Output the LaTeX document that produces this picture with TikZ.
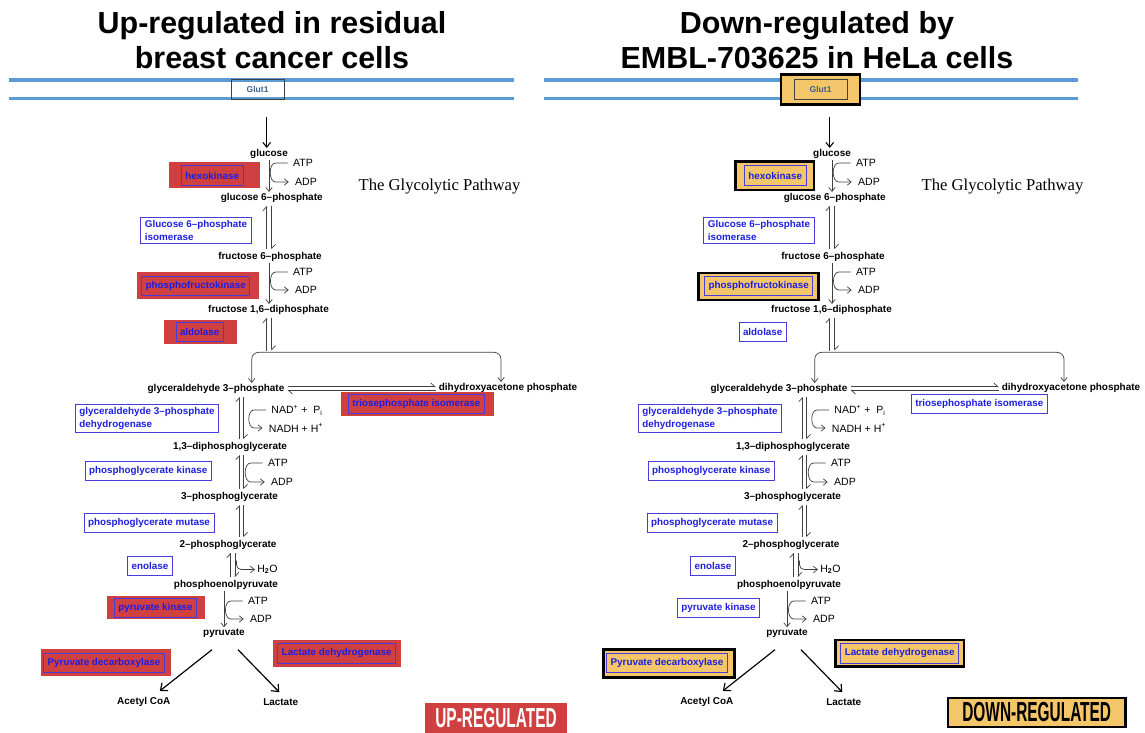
\documentclass[tikz,border=0pt]{standalone}
\usepackage{fontspec}
\usepackage{graphicx}
\setmainfont{Liberation Sans}
\newfontfamily\glycoserif{Liberation Serif}
\usetikzlibrary{arrows.meta,calc,backgrounds}

\definecolor{upred}{RGB}{209,64,64}
\definecolor{downyellow}{RGB}{244,198,106}
\definecolor{membraneblue}{RGB}{91,155,213}
\definecolor{enzblue}{RGB}{30,30,224}
\definecolor{enzline}{RGB}{70,62,220}
\definecolor{glutblue}{RGB}{60,95,140}

\tikzset{
  barb/.tip={Straight Barb[length=3.4pt,width=5.5pt]},
  met/.style={inner sep=1pt, font=\bfseries\fontsize{8.5}{10}\selectfont},
  cof/.style={inner sep=1pt, font=\fontsize{9}{10}\selectfont},
  enz/.style={draw=enzline, line width=0.75pt, text=enzblue, align=left,
    inner xsep=1.2mm, inner ysep=1mm, minimum height=5.8mm,
    font=\bfseries\fontsize{8.4}{10.7}\selectfont},
  glut/.style={draw=black!75, line width=0.8pt, text=glutblue, inner sep=0pt,
    minimum width=15.9mm, minimum height=6mm, font=\bfseries\fontsize{7.3}{9}\selectfont},
  membrane/.style={draw=membraneblue, line width=2.6pt},
  fwd/.style={draw=black!75, line width=0.6pt, -barb},
  harp/.style={draw=black!75, line width=0.6pt, shorten <=1.5pt, shorten >=1.5pt,
    -{Straight Barb[left,length=3.4pt,width=6.5pt]}},
  import/.style={draw=black, line width=0.9pt, -{Straight Barb[length=4pt,width=6.5pt]}},
  branch/.style={draw=black, line width=1pt, -{Straight Barb[length=5pt,width=8.5pt]}},
  title/.style={inner sep=0pt, anchor=base, font=\bfseries\fontsize{26}{31}\selectfont},
  upbg/.style={fill=upred},
  downbg/.style={fill=downyellow, draw=black, line width=2.3pt},
  upkey/.style={fill=upred, text=white, inner sep=0pt, minimum width=42.6mm,
    minimum height=9mm, font=\bfseries\fontsize{23.5}{23.5}\selectfont},
  downkey/.style={fill=downyellow, draw=black, line width=2.3pt, inner sep=0pt,
    minimum width=53.2mm, minimum height=8.7mm, font=\bfseries\fontsize{23.5}{23.5}\selectfont},
}

% pair of harpoons between two metabolites, in column #3
\newcommand\eqpair[3]{%
  \draw[harp] (#2.north -| #3a) -- (#1.south -| #3a);
  \draw[harp] (#1.south -| #3b) -- (#2.north -| #3b);}
% ATP -> ADP side hook
\newcommand\cofhook[2]{%
  \draw[fwd] ($(#1.west)+(-4,0)$) -- ++(-12,0) to[out=180,in=180]
    ($(#1.west |- #2.west)+(-16,0)$) -- ($(#2.west)+(-5,0)$);}

\begin{document}
\begin{tikzpicture}[x=0.3mm, y=-0.3mm]
\useasboundingbox (0,0) rectangle (1145,733);

\node[title] (upline1) at (272,34) {Up-regulated in residual};
\node[title] (upline2) at (272,69) {breast cancer cells};
\node[title] (downline1) at (817,34) {Down-regulated by};
\node[title] (downline2) at (817,69) {EMBL-703625 in HeLa cells};

\foreach \p/\dx/\ma/\mb in {L/0/9/514, R/563/-19/515} {
\begin{scope}[shift={(\dx,0)}]
  \begin{pgfonlayer}{background}
    \draw[membrane] (\ma,80) -- (\mb,80) (\ma,98.7) -- (\mb,98.7);
  \end{pgfonlayer}
  \node[glut] (\p-glut) at (257.6,89.3) {Glut1};

  % columns of the pathway
  \coordinate (\p-in) at (266.7,116.7);
  \coordinate (\p-c1) at (269,0);
  \coordinate (\p-c1a) at (266.7,0);
  \coordinate (\p-c1b) at (271.7,0);
  \coordinate (\p-c2a) at (239.6,0);
  \coordinate (\p-c2b) at (243.7,0);
  \coordinate (\p-c3a) at (230.5,0);
  \coordinate (\p-c3b) at (235,0);
  \coordinate (\p-c4) at (224,0);
  \coordinate (\p-brl) at (251.7,352.3);
  \coordinate (\p-brm) at (269,352.3);
  \coordinate (\p-brr) at (501,352.3);
  \coordinate (\p-eqt) at (0,386.7);
  \coordinate (\p-eqb) at (0,390.2);

  % metabolites
  \node[met] (\p-glc) at (269,154) {glucose};
  \node[cof] (\p-atp1) at (303,163) {ATP};
  \node[cof] (\p-adp1) at (306,182) {ADP};
  \node[met] (\p-g6p) at (271.7,198) {glucose 6–phosphate};
  \node[met] (\p-f6p) at (270,257) {fructose 6–phosphate};
  \node[cof] (\p-atp2) at (303,272) {ATP};
  \node[cof] (\p-adp2) at (306,290) {ADP};
  \node[met] (\p-fbp) at (268.5,310) {fructose 1,6–diphosphate};
  \node[met] (\p-g3p) at (216,389) {glyceraldehyde 3–phosphate};
  \node[met] (\p-dhap) at (508,388) {dihydroxyacetone phosphate};
  \node[cof] (\p-nad) at (297,410) {NAD\textsuperscript{+} +\ \ P\textsubscript{i}};
  \node[cof] (\p-nadh) at (296,428) {NADH + H\textsuperscript{+}};
  \node[met] (\p-bpg) at (230,447) {1,3–diphosphoglycerate};
  \node[cof] (\p-atp3) at (278,463) {ATP};
  \node[cof] (\p-adp3) at (282,482) {ADP};
  \node[met] (\p-pga3) at (229.5,497) {3–phosphoglycerate};
  \node[met] (\p-pga2) at (228,545) {2–phosphoglycerate};
  \node[cof] (\p-water) at (267.5,569.5) {H\textsubscript{\textbf{2}}O};
  \node[met] (\p-pep) at (226,585) {phosphoenolpyruvate};
  \node[cof] (\p-atp4) at (258,601) {ATP};
  \node[cof] (\p-adp4) at (261,619) {ADP};
  \node[met] (\p-pyr) at (224,633) {pyruvate};
  \node[met] (\p-acoa) at (143.8,702) {Acetyl CoA};
  \node[met] (\p-lac) at (280.7,702) {Lactate};
  \node[font=\glycoserif\fontsize{14.2}{17}\selectfont] (\p-name) at (439.5,186.7) {The Glycolytic Pathway};

  % enzymes
  \node[enz] (\p-hk) at (212.2,175.5) {hexokinase};
  \node[enz] (\p-gpi) at (196,230.7) {Glucose 6–phosphate\\isomerase};
  \node[enz] (\p-pfk) at (195.7,286) {phosphofructokinase};
  \node[enz] (\p-ald) at (199.7,332) {aldolase};
  \node[enz] (\p-tpi) at (416.3,403.9) {triosephosphate isomerase};
  \node[enz] (\p-gapdh) at (147,418.3) {glyceraldehyde 3–phosphate\\dehydrogenase};
  \node[enz] (\p-pgk) at (148.2,470.7) {phosphoglycerate kinase};
  \node[enz] (\p-pgm) at (149,523) {phosphoglycerate mutase};
  \node[enz] (\p-eno) at (150,565.8) {enolase};
  \node[enz] (\p-pk) at (155.5,607.7) {pyruvate kinase};
  \node[enz] (\p-pdc) at (104,662.8) {Pyruvate decarboxylase};
  \node[enz] (\p-ldh) at (336.7,653.3) {Lactate dehydrogenase};

  % reactions
  \draw[import] (\p-in) -- (\p-glc.north -| \p-in);
  \draw[fwd] (\p-glc.south -| \p-c1) -- (\p-g6p.north -| \p-c1);
  \cofhook{\p-atp1}{\p-adp1}
  \eqpair{\p-g6p}{\p-f6p}{\p-c1}
  \draw[fwd] (\p-f6p.south -| \p-c1) -- (\p-fbp.north -| \p-c1);
  \cofhook{\p-atp2}{\p-adp2}
  \draw[harp] (\p-brm -| \p-c1a) -- (\p-fbp.south -| \p-c1a);
  \draw[harp] (\p-fbp.south -| \p-c1b) -- (\p-brm -| \p-c1b);
  \draw[draw=black!75, line width=0.6pt, barb-barb, rounded corners=6pt]
    (\p-g3p.north -| \p-brl) |- (\p-brr) -- (\p-brr |- \p-dhap.north);
  \draw[harp] (\p-g3p.east |- \p-eqt) -- (\p-dhap.west |- \p-eqt);
  \draw[harp] (\p-dhap.west |- \p-eqb) -- (\p-g3p.east |- \p-eqb);
  \eqpair{\p-g3p}{\p-bpg}{\p-c2}
  \cofhook{\p-nad}{\p-nadh}
  \eqpair{\p-bpg}{\p-pga3}{\p-c2}
  \cofhook{\p-atp3}{\p-adp3}
  \eqpair{\p-pga3}{\p-pga2}{\p-c2}
  \eqpair{\p-pga2}{\p-pep}{\p-c3}
  \draw[fwd, rounded corners=4pt] ($(\p-water.west -| \p-c3b)+(1.5,-9)$) |- ($(\p-water.west)+(-1,0)$);
  \draw[fwd] (\p-pep.south -| \p-c4) -- (\p-pyr.north -| \p-c4);
  \cofhook{\p-atp4}{\p-adp4}
  \draw[branch] ($(\p-pyr.south)+(-12,11)$) -- ($(\p-acoa.north)+(16,-5)$);
  \draw[branch] ($(\p-pyr.south)+(14,11)$) -- ($(\p-lac.north)+(-1.4,-5)$);
\end{scope}
}

% highlighted enzymes
\begin{scope}[on background layer]
  \foreach \n/\l/\r/\t/\b in {hk/11.7/16.7/3.3/2.3, pfk/4/8.7/3.4/2.4, ald/12/12.7/2/2,
      tpi/6.8/9.5/1.7/2.3, pk/7/8/1.5/1.5, pdc/2.3/6/3.4/3.3, ldh/4.3/5/3.7/3.3}
    \path[upbg] ($(L-\n.north west)+(-\l,-\t)$) rectangle ($(L-\n.south east)+(\r,\b)$);
  \foreach \n/\l/\r/\t/\b in {glut/12.5/12.5/4/5, hk/8.5/7.5/4/4.5, pfk/5.5/5/3/4,
      pdc/3/7/3.5/4.5, ldh/4.5/5/3.2/3.2}
    \path[downbg] ($(R-\n.north west)+(-\l,-\t)$) rectangle ($(R-\n.south east)+(\r,\b)$);
\end{scope}

\node[upkey] (upkey) at (496,718) {\scalebox{0.56}[1]{UP-REGULATED}};
\node[downkey] (downkey) at (1036.7,712.5) {\scalebox{0.56}[1]{DOWN-REGULATED}};
\end{tikzpicture}
\end{document}
